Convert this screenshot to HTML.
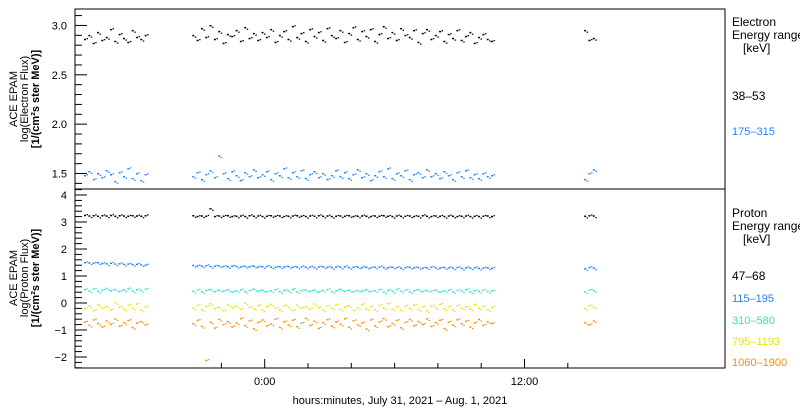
<!DOCTYPE html>
<html><head><meta charset="utf-8"><style>
body{margin:0;background:#fff;}
svg{display:block;font-family:"Liberation Sans",sans-serif;}
</style></head><body>
<svg id="chart" width="800" height="410" viewBox="0 0 800 410">
<g id="axes"></g>
<g id="marks"></g>
<g font-size="11" text-anchor="middle">
<text transform="translate(17,99) rotate(-90)">ACE  EPAM</text>
<text transform="translate(28,99) rotate(-90)">log(Electron Flux)</text>
<text transform="translate(39,99) rotate(-90)" font-weight="bold">[1/(cm²s ster MeV)]</text>
</g>
<g font-size="11" text-anchor="middle">
<text transform="translate(17,278) rotate(-90)">ACE  EPAM</text>
<text transform="translate(28,278) rotate(-90)">log(Proton Flux)</text>
<text transform="translate(39,278) rotate(-90)" font-weight="bold">[1/(cm²s ster MeV)]</text>
</g>
<text x="400" y="404" font-size="11" text-anchor="middle">hours:minutes, July 31, 2021 – Aug.  1, 2021</text>
<g font-size="12">
<text x="732" y="26">Electron</text>
<text x="732" y="39">Energy range</text>
<text x="743" y="52">[keV]</text>
<text x="732" y="100" fill="#000">38–53</text>
<text x="732" y="135" fill="#1e82ff" font-size="11">175–315</text>
</g>
<g font-size="12">
<text x="732" y="217">Proton</text>
<text x="732" y="230">Energy range</text>
<text x="743" y="243">[keV]</text>
<text x="732" y="280">47–68</text>
<text x="732" y="302" fill="#1e82ff" font-size="11">115–195</text>
<text x="732" y="324" fill="#28e6d2" font-size="11">310–580</text>
<text x="732" y="345" fill="#e6e600" font-size="11">795–1193</text>
<text x="732" y="366" fill="#ff8c00" font-size="11">1060–1900</text>
</g>
</svg>
<script>
// time segments (hours relative to 00:00 Jul 31)
const segStarts=[-8.3,-3.3,14.8];
const segCounts=[15,70,3];
const eBlack=[2.86,2.90,2.82,2.93,2.85,2.88,2.96,2.84,2.91,2.87,2.83,2.95,2.88,2.86,2.90,
2.90,2.85,2.97,2.88,3.00,2.86,2.94,2.82,2.91,2.89,2.95,2.84,2.98,2.87,2.92,2.85,2.93,2.88,2.96,2.83,2.90,2.94,2.86,2.99,2.88,2.92,2.84,2.96,2.89,2.93,2.85,2.97,2.90,2.87,2.95,2.83,2.92,2.98,2.86,2.94,2.89,2.96,2.84,2.91,2.99,2.87,2.93,2.85,2.97,2.90,2.88,2.95,2.83,2.92,2.96,2.86,2.90,2.94,2.84,2.91,2.87,2.95,2.85,2.89,2.93,2.82,2.88,2.91,2.86,2.84,
2.95,2.85,2.87];
const eBlue=[1.48,1.52,1.44,1.50,1.46,1.53,1.49,1.42,1.51,1.47,1.55,1.45,1.50,1.43,1.49,
1.47,1.51,1.44,1.49,1.53,1.46,1.68,1.50,1.45,1.52,1.48,1.43,1.51,1.47,1.54,1.46,1.49,1.52,1.44,1.50,1.48,1.55,1.46,1.51,1.47,1.53,1.45,1.49,1.52,1.46,1.50,1.44,1.48,1.53,1.47,1.51,1.45,1.49,1.54,1.46,1.50,1.43,1.48,1.52,1.47,1.55,1.45,1.50,1.48,1.53,1.44,1.49,1.51,1.46,1.54,1.47,1.50,1.45,1.52,1.48,1.44,1.51,1.47,1.53,1.46,1.49,1.45,1.50,1.47,1.48,
1.44,1.50,1.54];
const pBlack=[3.25,3.23,3.24,3.22,3.24,3.23,3.25,3.22,3.24,3.23,3.22,3.24,3.23,3.22,3.24,
3.24,3.21,3.23,3.22,3.50,3.21,3.23,3.22,3.24,3.21,3.22,3.23,3.21,3.24,3.22,3.23,3.21,3.22,3.24,3.22,3.23,3.21,3.22,3.23,3.24,3.22,3.21,3.23,3.22,3.24,3.22,3.23,3.21,3.22,3.23,3.22,3.24,3.21,3.22,3.23,3.22,3.21,3.23,3.22,3.24,3.22,3.21,3.23,3.22,3.22,3.23,3.21,3.22,3.24,3.22,3.21,3.23,3.22,3.21,3.23,3.22,3.21,3.22,3.23,3.21,3.22,3.21,3.22,3.23,3.21,
3.22,3.24,3.23];
const pBlue=[1.50,1.49,1.48,1.50,1.47,1.46,1.48,1.45,1.46,1.44,1.45,1.43,1.44,1.42,1.41,
1.40,1.38,1.37,1.39,1.36,1.37,1.38,1.36,1.35,1.37,1.36,1.34,1.36,1.35,1.37,1.34,1.35,1.36,1.34,1.33,1.35,1.34,1.36,1.33,1.34,1.35,1.33,1.34,1.32,1.34,1.35,1.33,1.32,1.34,1.33,1.35,1.32,1.33,1.34,1.32,1.33,1.31,1.33,1.34,1.32,1.31,1.33,1.32,1.30,1.32,1.33,1.31,1.32,1.30,1.31,1.33,1.31,1.30,1.32,1.31,1.30,1.32,1.29,1.31,1.30,1.31,1.29,1.30,1.31,1.29,
1.28,1.32,1.30];
const pCyan=[0.50,0.45,0.52,0.44,0.48,0.55,0.46,0.51,0.43,0.49,0.53,0.45,0.50,0.47,0.52,
0.44,0.49,0.42,0.47,0.51,0.43,0.48,0.45,0.50,0.41,0.46,0.49,0.43,0.47,0.52,0.44,0.48,0.42,0.46,0.50,0.43,0.47,0.45,0.51,0.42,0.46,0.49,0.44,0.48,0.41,0.47,0.50,0.43,0.46,0.52,0.44,0.48,0.42,0.47,0.45,0.50,0.43,0.46,0.49,0.41,0.47,0.44,0.51,0.45,0.48,0.42,0.46,0.50,0.43,0.47,0.44,0.49,0.41,0.46,0.48,0.43,0.47,0.45,0.50,0.42,0.46,0.44,0.48,0.43,0.45,
0.42,0.48,0.46];
const pYellow=[-0.20,-0.10,-0.28,-0.05,-0.18,-0.12,-0.25,0.02,-0.15,-0.22,-0.08,-0.19,-0.03,-0.26,-0.14,
-0.18,-0.08,-0.24,-0.12,-0.02,-0.20,-0.15,-0.28,-0.06,-0.17,-0.11,-0.23,0.00,-0.16,-0.21,-0.09,-0.26,-0.13,-0.04,-0.19,-0.24,-0.10,-0.15,-0.27,-0.07,-0.18,-0.12,-0.22,-0.03,-0.16,-0.25,-0.11,-0.19,-0.06,-0.23,-0.14,-0.09,-0.27,-0.17,-0.05,-0.21,-0.13,-0.24,-0.08,-0.18,-0.02,-0.22,-0.15,-0.26,-0.10,-0.19,-0.07,-0.23,-0.14,-0.28,-0.11,-0.17,-0.04,-0.21,-0.13,-0.25,-0.09,-0.18,-0.15,-0.22,-0.06,-0.19,-0.12,-0.24,-0.16,
-0.20,-0.10,-0.14];
const pOrange=[-0.70,-0.82,-0.62,-0.75,-0.88,-0.66,-0.78,-0.58,-0.85,-0.72,-0.64,-0.90,-0.74,-0.68,-0.80,
-0.76,-0.64,-0.86,-2.12,-0.70,-0.92,-0.60,-0.79,-0.68,-0.88,-0.73,-0.57,-0.83,-0.66,-0.95,-0.71,-0.62,-0.84,-0.77,-0.59,-0.90,-0.69,-0.81,-0.63,-0.87,-0.74,-0.56,-0.82,-0.67,-0.93,-0.72,-0.61,-0.85,-0.70,-0.78,-0.58,-0.89,-0.65,-0.80,-0.73,-0.96,-0.62,-0.84,-0.69,-0.57,-0.87,-0.75,-0.64,-0.91,-0.71,-0.60,-0.83,-0.68,-0.79,-0.58,-0.86,-0.72,-0.63,-0.94,-0.70,-0.81,-0.61,-0.76,-0.67,-0.88,-0.73,-0.60,-0.82,-0.69,-0.75,
-0.72,-0.80,-0.66];
const xTickHours=[-2,0,2,4,6,8,10,12,14];
const xTickLabels={"0":"0:00","12":"12:00"};
const topTicks=[1.5,2.0,2.5,3.0];
const topTickLabels=["1.5","2.0","2.5","3.0"];
const botTicks=[-2,-1,0,1,2,3,4];
const botTickLabels=["−2","−1","0","1","2","3","4"];

const NS="http://www.w3.org/2000/svg";
const PL=75,PR=725,TT=9,TB=189,BB=368;
const xH=h=>264.7+h*21.65;
const yTop=v=>173.5-(v-1.5)*98.7;
const yBot=v=>303-v*27;
const times=[];
segStarts.forEach((s,i)=>{for(let k=0;k<segCounts[i];k++)times.push(+(s+k*0.2).toFixed(2));});
function mk(tag,attrs,parent){const e=document.createElementNS(NS,tag);for(const k in attrs)e.setAttribute(k,attrs[k]);parent.appendChild(e);return e;}
const axes=document.getElementById('axes'),marks=document.getElementById('marks');
const fr=mk('rect',{x:PL,y:TT,width:PR-PL,height:BB-TT,fill:'none',stroke:'#000','stroke-width':1},axes);


const mid=mk('line',{x1:PL,x2:PR,y1:TB,y2:TB,stroke:'#000'},axes);


// top minor ticks
for(let v=1.4;v<=3.15;v+=0.1){const y=yTop(v);if(y<TT||y>TB)continue;const major=topTicks.some(t=>Math.abs(t-v)<0.01);
const l=mk('line',{x1:PL,x2:PL+(major?12:7),y1:y,y2:y,stroke:'#000'},axes);

}
topTicks.forEach((v,i)=>{const t=mk('text',{x:PL-8,y:yTop(v)+4,'font-size':11,'text-anchor':'end'},axes);t.textContent=topTickLabels[i];

});
for(let v=-2.4;v<=4.3;v+=0.2){const y=yBot(v);if(y<TB||y>BB)continue;const major=botTicks.some(t=>Math.abs(t-v)<0.01);
const l=mk('line',{x1:PL,x2:PL+(major?12:7),y1:y,y2:y,stroke:'#000'},axes);

}
botTicks.forEach((v,i)=>{const t=mk('text',{x:PL-8,y:yBot(v)+4,'font-size':11,'text-anchor':'end'},axes);t.textContent=botTickLabels[i];

});
xTickHours.forEach(h=>{const x=xH(h);const major=(h%12===0);
const l=mk('line',{x1:x,x2:x,y1:BB,y2:BB-(major?9:5),stroke:'#000'},axes);


if(xTickLabels[h]){const t=mk('text',{x:x,y:385,'font-size':11,'text-anchor':'middle'},axes);t.textContent=xTickLabels[h];

}});
function series(vals,ys,color,name){const g=mk('g',{fill:color},marks);


vals.forEach((v,i)=>{const x=xH(times[i]);const y=ys(v);
mk('rect',{x:x-1,y:y-0.5,width:2,height:1.5},g);
mk('rect',{x:x+1.5,y:ys(v)+((i%2)?1.2:-1.2),width:1.5,height:1.2},g);});}
series(eBlack,yTop,'#000','electron-38-53');
series(eBlue,yTop,'#1e82ff','electron-175-315');
series(pBlack,yBot,'#000','proton-47-68');
series(pBlue,yBot,'#1e82ff','proton-115-195');
series(pCyan,yBot,'#28e6d2','proton-310-580');
series(pYellow,yBot,'#e6e600','proton-795-1193');
series(pOrange,yBot,'#ff8c00','proton-1060-1900');
</script>
</body></html>
